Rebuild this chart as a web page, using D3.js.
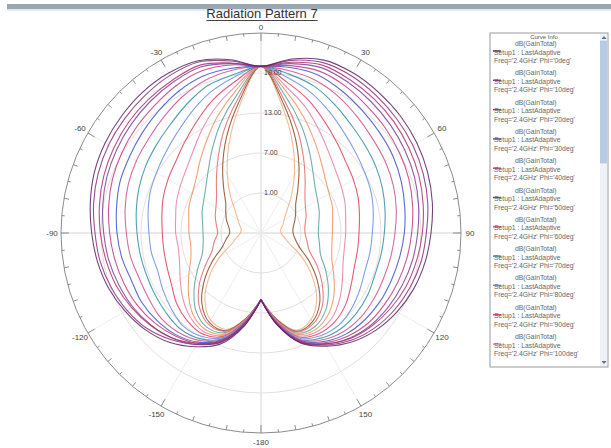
<!DOCTYPE html>
<html>
<head>
<meta charset="utf-8">
<script src="https://cdn.jsdelivr.net/npm/d3@7"></script>
<style>
  body { margin: 0; background: #fff; font-family: "Liberation Sans", Arial, sans-serif; }
</style>
</head>
<body>
<div id="chart-area"></div>
<script>
// Datos: angulos (theta, grados) y ganancia en dB por cada curva
var angles = [-180,-170,-160,-150,-140,-130,-120,-110,-100,-90,-80,-70,-60,-50,-40,-30,-20,-10,
              0,10,20,30,40,50,60,70,80,90,100,110,120,130,140,150,160,170,180];

var ringValues = [1, 7, 13, 19];
var ringLabels = ["1.00", "7.00", "13.00", "19.00"];
var angleTicks = [0, 30, 60, 90, 120, 150, 180, -150, -120, -90, -60, -30];
var angleTickLabels = ["0", "30", "60", "90", "120", "150", "-180", "-150", "-120", "-90", "-60", "-30"];

var c1  = [5.0, 9.1, 12.7, 14.7, 16.4, 17.6, 18.5, 19.3, 19.9, 20.4, 21.0, 21.6, 22.0, 22.3, 22.6, 22.7, 22.5, 21.4, 20.0, 21.5, 22.6, 22.7, 22.5, 22.3, 22.0, 21.6, 21.1, 20.5, 20.0, 19.4, 18.6, 17.6, 16.3, 14.6, 12.6, 9.0, 5.0];
var c2  = [5.0, 8.9, 12.4, 14.3, 15.9, 17.3, 18.2, 18.9, 19.5, 19.9, 20.5, 21.0, 21.4, 21.7, 22.0, 22.3, 22.3, 21.2, 20.0, 21.3, 22.2, 22.2, 21.9, 21.6, 21.3, 20.9, 20.4, 19.8, 19.4, 18.8, 18.1, 17.2, 16.0, 14.4, 12.5, 9.0, 5.0];
var c3  = [5.0, 8.8, 12.3, 14.1, 15.6, 16.6, 17.4, 18.1, 18.6, 19.1, 19.6, 20.1, 20.5, 20.9, 21.2, 21.5, 21.8, 20.9, 20.0, 21.0, 21.8, 21.6, 21.3, 21.0, 20.6, 20.2, 19.7, 19.2, 18.7, 18.2, 17.5, 16.7, 15.7, 14.2, 12.4, 8.9, 5.0];
var c4  = [5.0, 8.9, 12.4, 14.3, 15.6, 16.5, 17.2, 17.7, 18.2, 18.6, 19.1, 19.6, 20.0, 20.4, 20.8, 21.2, 21.5, 20.8, 20.0, 20.8, 21.4, 21.1, 20.7, 20.3, 19.9, 19.5, 19.0, 18.5, 18.1, 17.6, 17.1, 16.5, 15.6, 14.2, 12.4, 8.9, 5.0];
var c5  = [5.0, 8.8, 12.2, 14.1, 15.1, 15.9, 16.5, 16.9, 17.3, 17.7, 18.2, 18.7, 19.1, 19.5, 19.9, 20.5, 20.9, 20.6, 20.0, 20.5, 20.8, 20.4, 19.8, 19.4, 19.0, 18.6, 18.1, 17.6, 17.2, 16.8, 16.4, 16.0, 15.2, 14.0, 12.3, 8.9, 5.0];
var c6  = [5.0, 8.7, 12.1, 13.9, 14.9, 15.4, 15.7, 15.7, 16.2, 16.6, 17.0, 17.5, 17.8, 18.3, 18.9, 19.6, 20.1, 20.1, 20.0, 20.2, 20.2, 19.5, 18.8, 18.3, 17.9, 17.4, 16.9, 16.5, 16.1, 15.8, 15.6, 15.3, 14.8, 13.8, 12.2, 8.8, 5.0];
var c7  = [5.0, 8.7, 12.0, 13.6, 14.4, 14.7, 14.5, 14.5, 14.9, 15.2, 15.7, 16.2, 16.6, 17.0, 17.7, 18.6, 19.4, 19.8, 20.0, 19.7, 19.3, 18.5, 17.6, 16.9, 16.5, 16.1, 15.6, 15.1, 14.8, 14.6, 14.6, 14.6, 14.3, 13.5, 12.1, 8.8, 5.0];
var c8  = [5.0, 8.6, 11.9, 13.3, 13.8, 13.6, 13.4, 13.3, 13.4, 13.6, 14.0, 14.5, 15.0, 15.5, 16.2, 17.3, 18.5, 19.1, 20.0, 19.2, 18.4, 17.2, 16.1, 15.4, 14.9, 14.4, 13.9, 13.5, 13.3, 13.2, 13.5, 13.7, 13.7, 13.2, 12.0, 8.7, 5.0];
var c9  = [5.0, 8.5, 11.7, 12.9, 13.2, 12.6, 12.0, 11.5, 11.7, 11.8, 12.2, 12.7, 13.1, 13.7, 14.6, 15.9, 17.4, 18.7, 20.0, 18.6, 17.3, 15.8, 14.5, 13.6, 13.0, 12.6, 12.1, 11.7, 11.6, 11.6, 12.1, 12.7, 13.1, 12.8, 11.8, 8.6, 5.0];
var c10 = [5.0, 8.4, 11.5, 12.5, 12.2, 11.5, 10.5, 10.0, 9.8, 9.8, 10.1, 10.6, 11.1, 11.7, 12.8, 14.3, 16.2, 18.0, 20.0, 17.9, 16.1, 14.2, 12.7, 11.6, 11.0, 10.5, 10.0, 9.7, 9.7, 9.9, 10.6, 11.6, 12.3, 12.4, 11.6, 8.5, 5.0];
var c11 = [5.0, 8.3, 11.3, 12.1, 11.5, 10.3, 9.0, 8.0, 7.6, 7.8, 8.0, 8.5, 9.0, 9.7, 10.9, 12.8, 15.0, 17.3, 20.0, 17.2, 14.9, 12.6, 10.8, 9.6, 8.9, 8.4, 7.9, 7.7, 7.7, 8.1, 9.1, 10.4, 11.6, 12.0, 11.4, 8.4, 5.0];
var c12 = [5.0, 8.2, 11.1, 11.7, 10.9, 9.2, 7.5, 6.2, 5.7, 5.8, 6.0, 6.5, 6.9, 7.7, 9.2, 11.2, 13.8, 16.7, 20.0, 16.6, 13.6, 11.0, 9.0, 7.6, 6.8, 6.4, 5.9, 5.7, 5.8, 6.3, 7.6, 9.3, 10.8, 11.6, 11.2, 8.3, 5.0];
var c13 = [5.0, 8.2, 10.9, 11.3, 10.2, 8.1, 6.0, 4.4, 3.8, 3.7, 3.9, 4.4, 4.9, 5.8, 7.3, 9.6, 12.6, 16.0, 20.0, 15.9, 12.4, 9.4, 7.1, 5.6, 4.8, 4.3, 3.8, 3.6, 3.9, 4.5, 6.2, 8.2, 10.1, 11.2, 11.0, 8.3, 5.0];
var c14 = [5.0, 8.1, 10.7, 10.8, 9.4, 7.1, 4.6, 2.8, 2.1, 1.5, 1.8, 2.3, 2.8, 3.7, 5.4, 7.9, 11.3, 15.3, 20.0, 15.2, 11.2, 7.8, 5.3, 3.6, 2.7, 2.2, 1.7, 1.6, 2.0, 2.7, 4.7, 7.0, 9.3, 10.7, 10.8, 8.2, 5.0];
var c15 = [5.0, 8.0, 10.6, 10.5, 8.8, 6.1, 3.4, 1.2, 0.3, -0.3, -0.1, 0.5, 1.1, 1.9, 3.7, 6.5, 10.2, 14.7, 20.0, 14.6, 10.1, 6.4, 3.6, 1.8, 1.0, 0.4, -0.1, -0.2, 0.2, 1.1, 3.3, 6.0, 8.7, 10.4, 10.7, 8.1, 5.0];
var c16 = [5.0, 8.0, 10.4, 10.1, 8.1, 5.1, 2.1, -0.4, -1.3, -1.9, -2.0, -1.6, -1.0, 0.0, 2.1, 5.1, 9.1, 14.1, 20.0, 14.0, 9.0, 5.0, 2.0, 0.0, -1.0, -1.5, -2.0, -2.0, -1.5, -0.5, 2.0, 5.0, 8.0, 10.0, 10.5, 8.0, 5.0];

var seriesValues = [c1, c2, c3, c4, c5, c6, c7, c8, c9, c10, c11, c12, c13, c14, c15, c16];
var phiLabels = ["0deg", "10deg", "20deg", "30deg", "40deg", "50deg", "60deg", "70deg",
                 "80deg", "90deg", "100deg", "110deg", "120deg", "130deg", "140deg", "150deg"];
var colors = ["#5b2464", "#8a2f7d", "#b0306a", "#7a3fa0", "#c23b7a", "#3b55c8", "#d2508a", "#2f8fa8",
              "#6c8ee0", "#e0405a", "#e77fa6", "#f09060", "#5aa0a0", "#e06a6a", "#8a4a2a", "#f0b080"];

var width = 611;
var height = 448;
var cx = 261, cy = 233, R = 200;

var svg = d3.select("#chart-area")
    .append("svg")
    .attr("width", width)
    .attr("height", height);

// Barra gris superior
svg.append("rect").attr("x", 7).attr("y", 4).attr("width", width - 7).attr("height", 5).attr("fill", "#9ba8b3");
svg.append("rect").attr("x", 7).attr("y", 9).attr("width", width - 7).attr("height", 2).attr("fill", "#e2e9ef");

// Titulo
var title = svg.append("text")
    .attr("x", cx + 1)
    .attr("y", 18)
    .attr("text-anchor", "middle")
    .attr("font-size", "13px")
    .attr("fill", "#333")
    .text("Radiation Pattern 7");
var tb = title.node().getBBox();
svg.append("line")
    .attr("x1", tb.x).attr("x2", tb.x + tb.width)
    .attr("y1", 20.5).attr("y2", 20.5)
    .attr("stroke", "#444").attr("stroke-width", 1);

// Escalas
var r = d3.scaleLinear().domain([-5, 25]).range([0, R]);
var a = d3.scaleLinear().domain([-180, 180]).range([-Math.PI, Math.PI]);

var g = svg.append("g").attr("transform", "translate(" + cx + "," + cy + ")");

// Lineas radiales
g.selectAll(".spoke").data(d3.range(0, 180, 30))
  .enter().append("line")
    .attr("class", "spoke")
    .attr("x1", d => r(25) * Math.sin(a(d))).attr("y1", d => -r(25) * Math.cos(a(d)))
    .attr("x2", d => -r(25) * Math.sin(a(d))).attr("y2", d => r(25) * Math.cos(a(d)))
    .attr("stroke", d => d % 90 === 0 ? "#d4d4d4" : "#eeeeee")
    .attr("stroke-width", 1);

// Anillos
g.selectAll(".ring").data(ringValues)
  .enter().append("circle")
    .attr("class", "ring")
    .attr("r", d => r(d))
    .attr("fill", "none")
    .attr("stroke", "#e6dede")
    .attr("stroke-width", 1);

// Circulo exterior
g.append("circle").attr("r", r(25)).attr("fill", "none").attr("stroke", "#8c8c8c").attr("stroke-width", 1);

// Marcas en el circulo exterior
g.selectAll(".tick").data(d3.range(-175, 185, 5))
  .enter().append("line")
    .attr("class", "tick")
    .attr("x1", d => r(25) * Math.sin(a(d))).attr("y1", d => -r(25) * Math.cos(a(d)))
    .attr("x2", d => { var l = d % 30 === 0 ? 8 : (d % 10 === 0 ? 5 : 3); return (r(25) - l) * Math.sin(a(d)); })
    .attr("y2", d => { var l = d % 30 === 0 ? 8 : (d % 10 === 0 ? 5 : 3); return -(r(25) - l) * Math.cos(a(d)); })
    .attr("stroke", "#8c8c8c").attr("stroke-width", 1);

// Etiquetas de angulo
g.selectAll(".alabel").data(angleTicks)
  .enter().append("text")
    .attr("class", "alabel")
    .attr("x", d => 209 * Math.sin(a(d)))
    .attr("y", d => d === 0 ? -206 : -209 * Math.cos(a(d)))
    .attr("dy", "0.35em")
    .attr("text-anchor", "middle")
    .attr("font-size", "8px")
    .attr("fill", "#444")
    .text((d, i) => angleTickLabels[i]);

// Curvas
var line = d3.lineRadial()
    .angle(d => a(d.ang))
    .radius(d => r(d.val))
    .curve(d3.curveCatmullRom);

var series = seriesValues.map((vals, i) => ({
    color: colors[i],
    points: angles.map((ang, k) => ({ ang: ang, val: vals[k] }))
}));

g.selectAll(".curve").data(series.slice().reverse())
  .enter().append("path")
    .attr("class", "curve")
    .attr("d", d => line(d.points))
    .attr("fill", "none")
    .attr("stroke", d => d.color)
    .attr("stroke-width", 1.1)
    .attr("stroke-opacity", 0.85);

// Etiquetas de anillos
g.selectAll(".rlabel").data(ringValues)
  .enter().append("text")
    .attr("class", "rlabel")
    .attr("x", 3)
    .attr("y", d => -r(d))
    .attr("dy", "0.35em")
    .attr("font-size", "7px")
    .attr("fill", "#444")
    .text((d, i) => ringLabels[i]);

// Leyenda
var lx = 490, ly = 33, lw = 118, lh = 334;
var legend = svg.append("g");
legend.append("rect").attr("x", lx).attr("y", ly).attr("width", lw).attr("height", lh)
    .attr("fill", "#fff").attr("stroke", "#9a9a9a");
legend.append("rect").attr("x", lx + lw - 8).attr("y", ly + 1).attr("width", 7).attr("height", lh - 2)
    .attr("fill", "#eef2f7");
legend.append("rect").attr("x", lx + lw - 7.5).attr("y", ly + 8).attr("width", 6).attr("height", 122)
    .attr("fill", "#b7cbe6").attr("stroke", "#9fb5d6").attr("stroke-width", 0.5);
legend.append("path").attr("d", "M" + (lx + lw - 6.5) + "," + (ly + 6) + "l2.5,-3l2.5,3z").attr("fill", "#5a6f90");
legend.append("path").attr("d", "M" + (lx + lw - 6.5) + "," + (ly + lh - 6) + "l2.5,3l2.5,-3z").attr("fill", "#5a6f90");
legend.append("text").attr("x", lx + 54).attr("y", ly + 6).attr("text-anchor", "middle")
    .attr("font-size", "6px").attr("fill", "#555").text("Curve Info");

var entries = legend.selectAll(".entry").data(series.slice(0, 11))
  .enter().append("g")
    .attr("class", "entry")
    .attr("transform", (d, i) => "translate(" + (lx + 3) + "," + (ly + 13 + i * 29.3) + ")");
entries.append("line").attr("x1", 0).attr("x2", 8).attr("y1", 5).attr("y2", 5)
    .attr("stroke", d => d.color).attr("stroke-width", 1.5);
entries.append("text").attr("x", 22).attr("y", 0).attr("font-size", "6.8px").attr("fill", "#666")
    .text("dB(GainTotal)");
entries.append("text").attr("x", 1).attr("y", 8.5).attr("font-size", "6.8px").attr("fill", "#666")
    .text("Setup1 : LastAdaptive");
entries.append("text").attr("x", 1).attr("y", 17).attr("font-size", "6.8px").attr("fill", "#666")
    .text((d, i) => "Freq='2.4GHz' Phi='" + phiLabels[i] + "'");
</script>
</body>
</html>
